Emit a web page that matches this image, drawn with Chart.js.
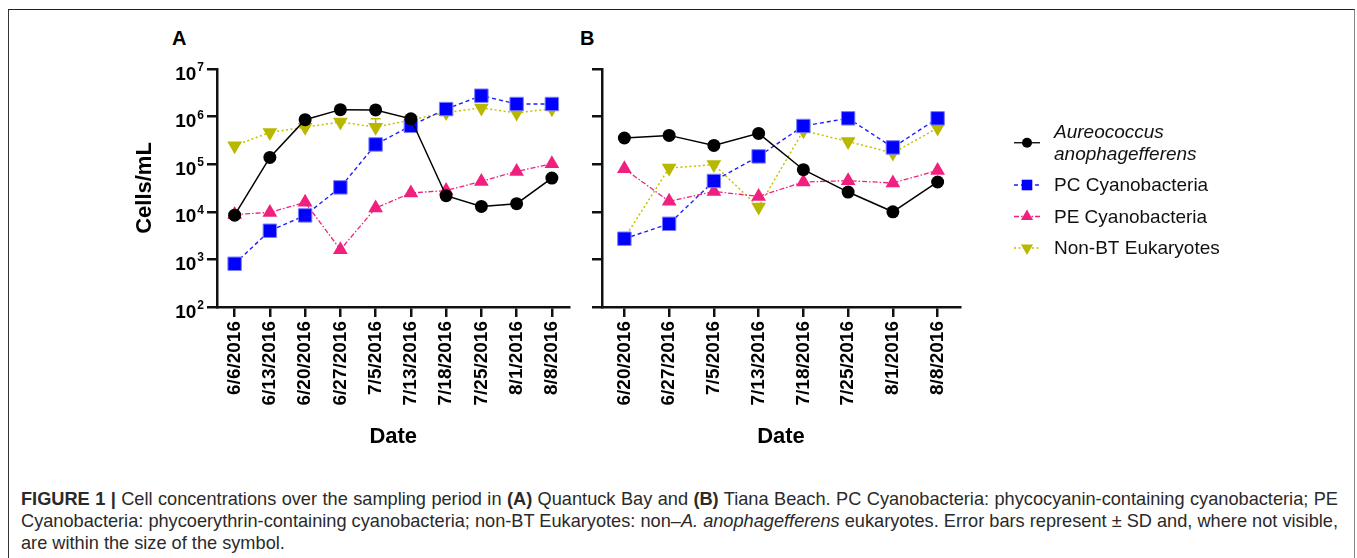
<!DOCTYPE html>
<html>
<head>
<meta charset="utf-8">
<script src="https://cdn.jsdelivr.net/npm/chart.js@4.4.1/dist/chart.umd.min.js"></script>
<style>
    body { margin: 0; background: #fff; width: 1357px; height: 558px; overflow: hidden; position: relative; font-family: Arial, "Liberation Sans", Helvetica, sans-serif; }
    #frame { position: absolute; left: 8px; top: 9px; width: 1345px; height: 600px; border: 1px solid #888; border-left-color: #333; border-top-color: #222; }
    .panel { position: absolute; font-weight: bold; font-size: 20px; line-height: 20px; color: #000; }
    canvas { position: absolute; top: 0; }
    #caption { position: absolute; left: 21px; top: 488px; width: 1317px; font-size: 18.2px; line-height: 22px; color: #2a2a2a; }
    #caption .j { display: block; white-space: nowrap; text-align: justify; text-align-last: justify; }
    #caption .l { display: block; white-space: nowrap; }
</style>
</head>
<body>
<div id="frame"></div>
<div class="panel" style="left:172px; top:28px;">A</div>
<div class="panel" style="left:580px; top:28px;">B</div>
<canvas id="chartA" width="460" height="470" style="left:120px;"></canvas>
<canvas id="chartB" width="790" height="470" style="left:560px;"></canvas>
<div id="caption">
    <span class="j"><b>FIGURE 1 |</b> Cell concentrations over the sampling period in <b>(A)</b> Quantuck Bay and <b>(B)</b> Tiana Beach. PC Cyanobacteria: phycocyanin-containing cyanobacteria; PE</span>
    <span class="j">Cyanobacteria: phycoerythrin-containing cyanobacteria; non-BT Eukaryotes: non–<i>A. anophagefferens</i> eukaryotes. Error bars represent ± SD and, where not visible,</span>
    <span class="l">are within the size of the symbol.</span>
</div>

<script>
// sampling dates
const datesA = ["6/6/2016", "6/13/2016", "6/20/2016", "6/27/2016", "7/5/2016", "7/13/2016", "7/18/2016", "7/25/2016", "8/1/2016", "8/8/2016"];
const datesB = ["6/20/2016", "6/27/2016", "7/5/2016", "7/13/2016", "7/18/2016", "7/25/2016", "8/1/2016", "8/8/2016"];

// (A) Quantuck Bay, cells/mL
const aanA = [8500, 139000, 860000, 1400000, 1380000, 900000, 21800, 13000, 14800, 51000];
const pcA = [810, 4000, 8400, 32600, 260000, 640000, 1440000, 2750000, 1840000, 1840000];
const peA = [8800, 9700, 15800, 1600, 12000, 24800, 28000, 43500, 70600, 102000];
const nonbtA = [245000, 466000, 600000, 770000, 600000, 850000, 1220000, 1520000, 1190000, 1470000];

// visible error bar ends (A)
const pcLowA = [630, null, null, null, null, null, null, null, null, null];
const nonbtHighA = [null, null, null, null, 900000, null, null, null, null, null];

// (B) Tiana Beach, cells/mL
const aanB = [355000, 403000, 248000, 444000, 76600, 26000, 10000, 42300];
const pcB = [2720, 5600, 44400, 146000, 635000, 920000, 225000, 920000];
const peB = [80000, 16600, 26800, 21000, 42300, 45000, 40300, 74000];
const nonbtB = [2800, 83000, 98000, 12600, 506000, 300000, 172000, 577000];

const yExps = [2, 3, 4, 5, 6, 7];
const seriesNames = ["Aureococcus anophagefferens", "PC Cyanobacteria", "PE Cyanobacteria", "Non-BT Eukaryotes"];

const FONT = "Arial, 'Liberation Sans', Helvetica, sans-serif";
const AXIS = "#111";

function makeDatasets(aan, pc, pe, nonbt, extra) {
    extra = extra || {};
    return [
        {
            label: seriesNames[0], data: aan, italic: true,
            borderColor: "#000", backgroundColor: "#000", borderWidth: 1.5,
            pointStyle: "circle", pointRadius: 6.5, pointBorderWidth: 0, pointBackgroundColor: "#000"
        },
        {
            label: seriesNames[1], data: pc, errLow: extra.pcLow,
            borderColor: "#1f1fff", backgroundColor: "#0000ff", borderWidth: 1.4, borderDash: [4, 3],
            pointStyle: "rect", pointRadius: 9.5, pointBorderWidth: 1, pointBorderColor: "#7d7dff", pointBackgroundColor: "#0000ff"
        },
        {
            label: seriesNames[2], data: pe,
            borderColor: "#f0207f", backgroundColor: "#f0207f", borderWidth: 1.3, borderDash: [5, 2, 1.5, 2],
            pointStyle: "triangle", pointRadius: 8.5, pointBorderWidth: 0, pointBackgroundColor: "#f0207f"
        },
        {
            label: seriesNames[3], data: nonbt, errHigh: extra.nonbtHigh,
            borderColor: "#c2c200", backgroundColor: "#b8b800", borderWidth: 1.5, borderDash: [2, 2.5],
            pointStyle: "triangle", pointRotation: 180, pointRadius: 8.5, pointBorderWidth: 0, pointBackgroundColor: "#b8b800"
        }
    ];
}

function drawMarker(ctx, style, rotation, r, x, y, color) {
    ctx.save();
    ctx.fillStyle = color;
    ctx.translate(x, y);
    ctx.rotate((rotation || 0) * Math.PI / 180);
    ctx.beginPath();
    if (style === "circle") {
        ctx.arc(0, 0, r, 0, Math.PI * 2);
    } else if (style === "rect") {
        const s = r * Math.SQRT1_2;
        ctx.rect(-s, -s, 2 * s, 2 * s);
    } else {
        for (let k = 0; k < 3; k++) {
            const a = -Math.PI / 2 + k * 2 * Math.PI / 3;
            if (k === 0) ctx.moveTo(Math.cos(a) * r, Math.sin(a) * r);
            else ctx.lineTo(Math.cos(a) * r, Math.sin(a) * r);
        }
        ctx.closePath();
    }
    ctx.fill();
    ctx.restore();
}

// error bars, drawn under the markers
const errorBars = {
    id: "errorBars",
    beforeDatasetsDraw(chart) {
        const ctx = chart.ctx;
        const x = chart.scales.x, y = chart.scales.y;
        chart.data.datasets.forEach(ds => {
            ["errHigh", "errLow"].forEach(key => {
                const ends = ds[key];
                if (!ends) return;
                ends.forEach((v, i) => {
                    if (v == null) return;
                    const px = x.getPixelForValue(i);
                    const p0 = y.getPixelForValue(ds.data[i]);
                    const p1 = y.getPixelForValue(v);
                    ctx.save();
                    ctx.strokeStyle = ds.backgroundColor;
                    ctx.lineWidth = 1.5;
                    ctx.beginPath();
                    ctx.moveTo(px, p0);
                    ctx.lineTo(px, p1);
                    ctx.moveTo(px - 5, p1);
                    ctx.lineTo(px + 5, p1);
                    ctx.stroke();
                    ctx.restore();
                });
            });
        });
    }
};

// 10^n tick labels on the left axis
const powerLabels = {
    id: "powerLabels",
    afterDraw(chart) {
        const ctx = chart.ctx;
        const y = chart.scales.y;
        const tickStart = y.right - 10;
        ctx.save();
        ctx.fillStyle = "#000";
        yExps.forEach(e => {
            const py = y.getPixelForValue(Math.pow(10, e));
            ctx.font = "bold 12px " + FONT;
            ctx.textAlign = "right";
            ctx.textBaseline = "alphabetic";
            const expRight = tickStart - 3;
            ctx.fillText(String(e), expRight, py + 2);
            const expW = ctx.measureText(String(e)).width;
            ctx.font = "bold 19px " + FONT;
            ctx.fillText("10", expRight - expW - 1, py + 10.5);
        });
        ctx.restore();
    }
};

// legend to the right of panel B
const sideLegend = {
    id: "sideLegend",
    afterDraw(chart) {
        const ctx = chart.ctx;
        const lineX0 = 454, lineX1 = 480, markX = 467, textX = 494;
        let lineY = 132;
        ctx.save();
        chart.data.datasets.forEach((ds, i) => {
            const lines = ds.italic ? ds.label.split(" ") : [ds.label];
            if (i > 0) lineY += 31.5;
            const first = lineY;
            ctx.font = (ds.italic ? "italic " : "") + "19px " + FONT;
            ctx.fillStyle = "#111";
            ctx.textAlign = "left";
            ctx.textBaseline = "middle";
            lines.forEach((t, k) => {
                if (k > 0) lineY += 21.5;
                ctx.fillText(t, textX, lineY + 1);
            });
            const my = (first + lineY) / 2;
            ctx.strokeStyle = ds.borderColor;
            ctx.lineWidth = 1.3;
            ctx.setLineDash(ds.borderDash || []);
            ctx.beginPath();
            ctx.moveTo(lineX0, my);
            ctx.lineTo(lineX1, my);
            ctx.stroke();
            ctx.setLineDash([]);
            const r = ds.pointStyle === "circle" ? 5 : (ds.pointStyle === "rect" ? 7.5 : 7);
            drawMarker(ctx, ds.pointStyle, ds.pointRotation, r, markX, my, ds.pointBackgroundColor);
        });
        ctx.restore();
    }
};

function makeOptions(yWidth, padRight, showYTitle) {
    return {
        responsive: false,
        animation: false,
        devicePixelRatio: 1,
        layout: { padding: { top: 69, right: padRight, left: 0, bottom: 0 } },
        plugins: { legend: { display: false }, tooltip: { enabled: false } },
        elements: { line: { tension: 0 } },
        datasets: { line: { clip: false } },
        scales: {
            x: {
                type: "category",
                offset: true,
                grid: { offset: false, display: true, drawOnChartArea: false, drawTicks: true, tickLength: 10, color: AXIS, lineWidth: 2.5 },
                border: { display: true, color: AXIS, width: 2.5 },
                ticks: {
                    autoSkip: false, minRotation: 90, maxRotation: 90, padding: 4,
                    color: "#000", font: { family: FONT, size: 19, weight: "bold" }
                },
                title: { display: true, text: "Date", color: "#000", padding: { top: 0, bottom: 20 }, font: { family: FONT, size: 22, weight: "bold" } },
                afterFit: scale => { scale.height = 163; }
            },
            y: {
                type: "logarithmic",
                min: 100,
                max: 10000000,
                afterBuildTicks: scale => { scale.ticks = yExps.map(e => ({ value: Math.pow(10, e) })); },
                grid: { display: true, drawOnChartArea: false, drawTicks: true, tickLength: 10, color: AXIS, lineWidth: 2.5 },
                border: { display: true, color: AXIS, width: 2.5 },
                ticks: { display: false },
                title: { display: showYTitle, text: "Cells/mL", color: "#000", padding: { top: 12, bottom: 0 }, font: { family: FONT, size: 22, weight: "bold" } },
                afterFit: scale => { scale.width = yWidth; }
            }
        }
    };
}

new Chart(document.getElementById("chartA"), {
    type: "line",
    data: { labels: datesA, datasets: makeDatasets(aanA, pcA, peA, nonbtA, { pcLow: pcLowA, nonbtHigh: nonbtHighA }) },
    options: makeOptions(97, 7, true),
    plugins: [errorBars, powerLabels]
});

new Chart(document.getElementById("chartB"), {
    type: "line",
    data: { labels: datesB, datasets: makeDatasets(aanB, pcB, peB, nonbtB) },
    options: makeOptions(42, 390, false),
    plugins: [errorBars, sideLegend]
});
</script>
</body>
</html>
